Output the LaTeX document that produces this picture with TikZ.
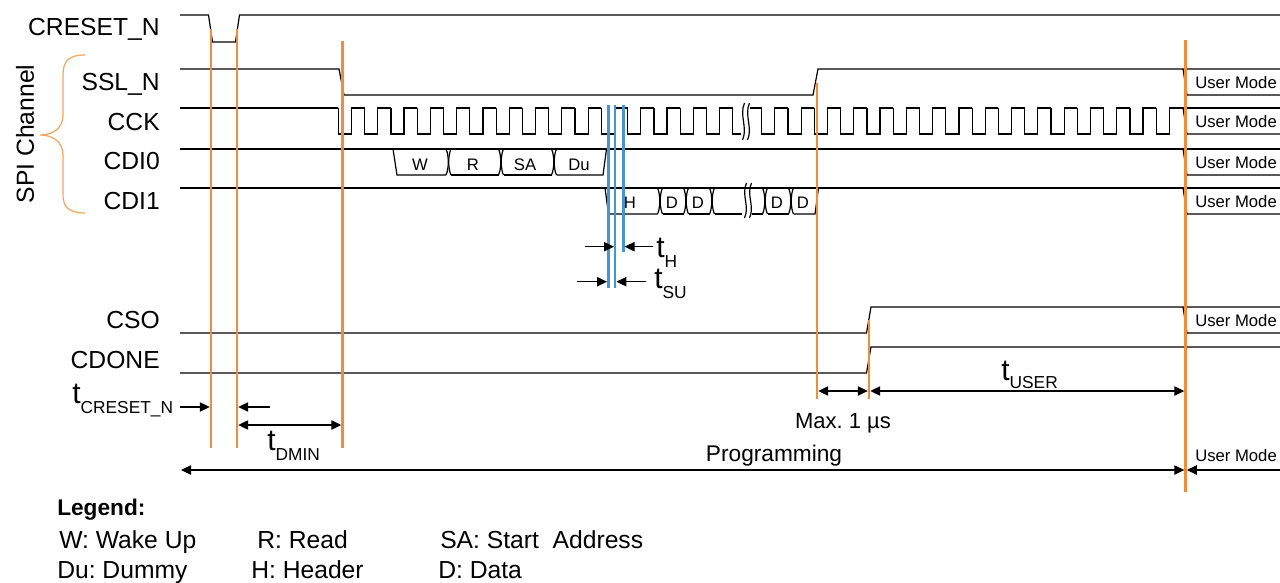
\documentclass[tikz,border=0pt]{standalone}
\usepackage{fontspec}
\setmainfont{Liberation Sans}
\usetikzlibrary{arrows.meta}
\frenchspacing
\definecolor{lineorange}{RGB}{240,140,62}
\definecolor{braceorange}{RGB}{242,165,95}
\definecolor{lineblue}{RGB}{70,150,205}
\newcommand\tlab[2][7.5pt]{t\raisebox{-#1}{\fontsize{13}{14}\selectfont #2}}
\newcommand\bustrans[3]{%
  \draw[sig] (#1-2.5,#2) .. controls (#1+0.5,#2+6) and (#1+0.5,#3-6) .. (#1-2.5,#3);
  \draw[sig] (#1+2.5,#2) .. controls (#1-0.5,#2+6) and (#1-0.5,#3-6) .. (#1+2.5,#3);}
\begin{document}
\begin{tikzpicture}[x=0.75pt,y=-0.75pt,
  sig/.style={line width=0.9pt, black, line join=miter},
  olin/.style={line width=1.9pt, lineorange},
  blin/.style={line width=2.1pt, lineblue},
  dim/.style={line width=0.9pt, -{Triangle[length=7.5pt,width=7pt]}},
  ddim/.style={line width=0.9pt, {Triangle[length=7.5pt,width=7pt]}-{Triangle[length=7.5pt,width=7pt]}},
  lab/.style={font=\fontsize{18.5}{20}\selectfont, inner sep=0pt, anchor=base east},
  bustxt/.style={font=\fontsize{12.5}{14}\selectfont, inner sep=0pt, anchor=base},
  um/.style={font=\fontsize{12.5}{14}\selectfont, inner sep=0pt, anchor=base west},
  tl/.style={font=\fontsize{22.5}{24}\selectfont, inner sep=0pt, anchor=base west},
  txt/.style={font=\fontsize{17}{19}\selectfont, inner sep=0pt, anchor=base},
  leg/.style={font=\fontsize{18.5}{20}\selectfont, inner sep=0pt, anchor=base west}]
\useasboundingbox (0,0) rectangle (1280,582);

% ---- signal labels
\node[lab] (lCRESET) at (160,35) {CRESET\_N};
\node[lab] (lSSL) at (160,90) {SSL\_N};
\node[lab] (lCCK) at (160,130) {CCK};
\node[lab] (lCDI0) at (160,169) {CDI0};
\node[lab] (lCDI1) at (160,209) {CDI1};
\node[lab] (lCSO) at (160,328) {CSO};
\node[lab] (lCDONE) at (160,368) {CDONE};
\node[lab, anchor=center, rotate=90] (lSPI) at (25,134) {SPI Channel};

% ---- brace
\draw[braceorange, line width=0.9pt] (85,55) .. controls (69,55) and (63,61) .. (63,75) -- (63,115)
  .. controls (63,128) and (53,135) .. (40,135) .. controls (53,135) and (63,142) .. (63,155)
  -- (63,195) .. controls (63,207) and (69,213) .. (85,213);

% ---- CRESET_N
\draw[sig] (180,15) -- (208.5,15) -- (212.5,42) -- (235.5,42) -- (239.5,15) -- (1280,15);
% ---- SSL_N
\draw[sig] (180,69) -- (339,69) -- (344,95) -- (813,95) -- (818,69) -- (1280,69);
% ---- CCK
\draw[sig] (180,108) -- (338.3,108);
\foreach \k in {0,...,14}
  \draw[sig] (338.3+26.3*\k,108) -- ++(0,26) -- ++(13.15,0) -- ++(0,-26) -- ++(13.15,0);
\draw[sig] (732.8,108) -- (732.8,134) -- (741,134);
\draw[sig] (750,108) -- (761.7,108);
\foreach \k in {0,...,15}
  \draw[sig] (761.7+26.3*\k,108) -- ++(0,26) -- ++(13.15,0) -- ++(0,-26) -- ++(13.15,0);
\draw[sig] (1169,108) -- (1280,108);
\draw[sig] (744.5,103) .. controls (739,115) and (748,128) .. (742.5,140);
\draw[sig] (749.5,103) .. controls (744,115) and (753,128) .. (747.5,140);
% ---- CDI0
\draw[sig] (180,149) -- (1280,149);
\draw[sig] (393,149) -- (397,175) -- (446,175);
\bustrans{448.5}{149}{175}
\draw[sig] (451,175) -- (498.5,175);
\bustrans{501}{149}{175}
\draw[sig] (503.5,175) -- (551.5,175);
\bustrans{554}{149}{175}
\draw[sig] (556.5,175) -- (603,175) -- (606.5,149);
\node[bustxt] (bW) at (420,170) {W};
\node[bustxt] (bR) at (473,170) {R};
\node[bustxt] (bSA) at (525,170) {SA};
\node[bustxt] (bDu) at (579,170) {Du};
% ---- CDI1
\draw[sig] (180,188) -- (1280,188);
\draw[sig] (605,188) -- (608.5,214) -- (657.5,214);
\bustrans{660}{188}{214}
\draw[sig] (662.5,214) -- (683.5,214);
\bustrans{686}{188}{214}
\draw[sig] (688.5,214) -- (709.5,214);
\bustrans{712}{188}{214}
\draw[sig] (714.5,214) -- (742,214);
\draw[sig] (752,214) -- (762.5,214);
\bustrans{765}{188}{214}
\draw[sig] (767.5,214) -- (788.5,214);
\bustrans{791}{188}{214}
\draw[sig] (793.5,214) -- (815,214) -- (818.5,188);
\draw[sig] (746.5,183) .. controls (741,195) and (750,206) .. (744.5,218);
\draw[sig] (751.5,183) .. controls (746,195) and (755,206) .. (749.5,218);
\node[bustxt] (bH) at (630,208.3) {H};
\node[bustxt] (bD1) at (672,208.3) {D};
\node[bustxt] (bD2) at (698,208.3) {D};
\node[bustxt] (bD3) at (777,208.3) {D};
\node[bustxt] (bD4) at (803,208.3) {D};
% ---- CSO / CDONE
\draw[sig] (180,333) -- (866.5,333) -- (871,307) -- (1280,307);
\draw[sig] (180,373) -- (866.5,373) -- (871,347) -- (1280,347);

% ---- User Mode buses
\foreach \yt/\nm in {69/a,108/b,149/c,188/d,307/e} {
  \draw[sig] (1183,\yt) -- (1187,\yt+26) -- (1280,\yt+26);
  \node[um] (um\nm) at (1195,\yt+19.3) {User Mode};
}

% ---- orange markers
\draw[olin] (211,29) -- (211,448);
\draw[olin] (237,29) -- (237,448);
\draw[olin] (342.5,41) -- (342.5,448);
\draw[olin] (817,83) -- (817,399);
\draw[olin] (869,320) -- (869,399);
\draw[olin] (1185.5,40) -- (1185.5,492);

% ---- blue markers
\draw[blin] (608.3,105) -- (608.3,288);
\draw[blin] (615,105) -- (615,288);
\draw[blin] (623.3,105) -- (623.3,252);

% ---- tH / tSU
\coordinate (hA) at (585,246.7);
\coordinate (hB) at (614,246.7);
\coordinate (hC) at (653,246.7);
\coordinate (hD) at (624.6,246.7);
\draw[dim] (hA) -- (hB);
\draw[dim] (hC) -- (hD);
\coordinate (sA) at (577,281.7);
\coordinate (sB) at (607,281.7);
\coordinate (sC) at (646,281.7);
\coordinate (sD) at (616.4,281.7);
\draw[dim] (sA) -- (sB);
\draw[dim] (sC) -- (sD);
\node[tl] (tH) at (656,257) {\tlab{H}};
\node[tl] (tSU) at (654,288.5) {\tlab{SU}};

% ---- bottom timing
\coordinate (cA) at (180,407);
\coordinate (cB) at (209.8,407);
\coordinate (cC) at (270,407);
\coordinate (cD) at (238.2,407);
\draw[dim] (cA) -- (cB);
\draw[dim] (cC) -- (cD);
\node[tl] (tCR) at (72,403) {\tlab{CRESET\_N}};

\coordinate (dA) at (238.2,425);
\coordinate (dB) at (341.3,425);
\draw[ddim] (dA) -- (dB);
\node[tl] (tDM) at (267,450) {\tlab{DMIN}};

\coordinate (mA) at (818.2,391);
\coordinate (mB) at (867.8,391);
\draw[ddim] (mA) -- (mB);
\coordinate (uA) at (870.2,391);
\coordinate (uB) at (1184.3,391);
\draw[ddim] (uA) -- (uB);
\node[tl] (tUS) at (1001,380) {\tlab[6pt]{USER}};
\node[txt, font=\fontsize{16.5}{18}\selectfont] (tMax) at (843,428) {Max. 1 µs};

\coordinate (pA) at (181,470);
\coordinate (pB) at (1184.3,470);
\draw[ddim] (pA) -- (pB);
\coordinate (pC) at (1280,470);
\coordinate (pD) at (1186.8,470);
\draw[dim] (pC) -- (pD);
\node[txt] (tProg) at (774,461) {Programming};
\node[um] (umf) at (1195,461) {User Mode};

% ---- legend
\node[leg, font=\bfseries\fontsize{17}{19}\selectfont] (legT) at (57,515) {Legend:};
\node[leg] (lg1) at (59,548) {W: Wake Up};
\node[leg] (lg2) at (257,548) {R: Read};
\node[leg] (lg3) at (440,548) {SA: Start~ Address};
\node[leg] (lg4) at (57,578) {Du: Dummy};
\node[leg] (lg5) at (251,578) {H: Header};
\node[leg] (lg6) at (438,578) {D: Data};
\end{tikzpicture}
\end{document}
